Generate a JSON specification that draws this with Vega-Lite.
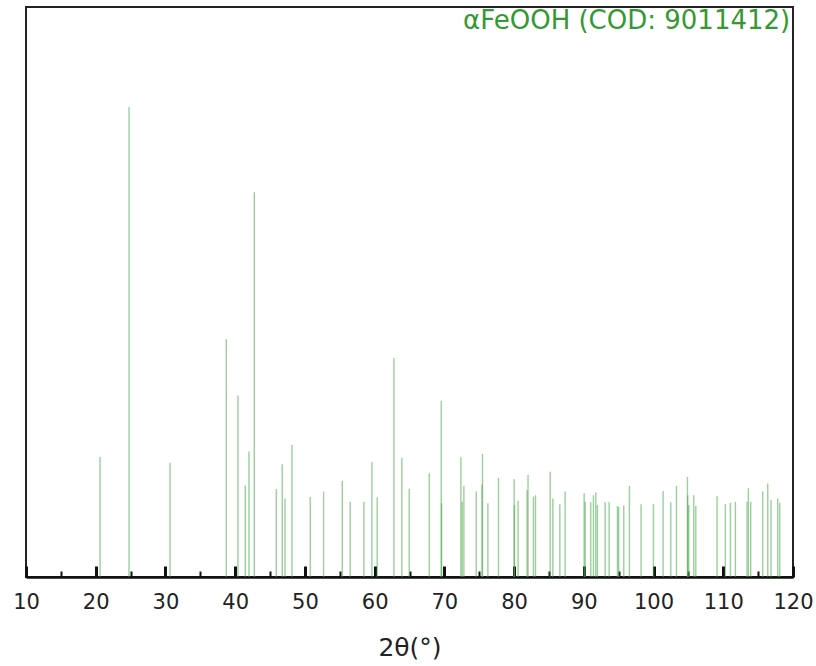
{
  "$schema": "https://vega.github.io/schema/vega-lite/v6.json",
  "width": 767,
  "height": 570,
  "autosize": "none",
  "padding": {"left": 26, "top": 7, "right": 23, "bottom": 89},
  "background": "white",
  "config": {
    "view": {"stroke": "#222222", "strokeWidth": 2},
    "font": "DejaVu Sans"
  },
  "data": {
    "values": [
      {"t": 20.62, "I": 25.6}, {"t": 24.78, "I": 100.0}, {"t": 30.66, "I": 24.3},
      {"t": 38.73, "I": 50.6}, {"t": 40.40, "I": 38.6}, {"t": 41.45, "I": 19.4},
      {"t": 41.98, "I": 26.7}, {"t": 42.74, "I": 81.9}, {"t": 45.90, "I": 18.7},
      {"t": 46.75, "I": 24.0}, {"t": 47.14, "I": 16.7}, {"t": 48.14, "I": 28.1},
      {"t": 50.77, "I": 17.0}, {"t": 52.68, "I": 18.2}, {"t": 55.36, "I": 20.5},
      {"t": 56.50, "I": 16.0}, {"t": 58.46, "I": 16.0}, {"t": 59.61, "I": 24.5},
      {"t": 60.37, "I": 16.9}, {"t": 62.77, "I": 46.6}, {"t": 63.91, "I": 25.4},
      {"t": 64.96, "I": 18.8}, {"t": 67.83, "I": 22.1}, {"t": 69.55, "I": 37.5},
      {"t": 69.60, "I": 15.7}, {"t": 72.37, "I": 25.5}, {"t": 72.55, "I": 16.0},
      {"t": 72.80, "I": 19.4}, {"t": 74.57, "I": 18.2}, {"t": 75.40, "I": 19.7},
      {"t": 75.47, "I": 26.2}, {"t": 76.24, "I": 15.7}, {"t": 77.76, "I": 21.1},
      {"t": 80.01, "I": 20.8}, {"t": 80.05, "I": 15.3}, {"t": 80.57, "I": 16.2},
      {"t": 81.86, "I": 18.5}, {"t": 82.00, "I": 21.7}, {"t": 82.78, "I": 17.1},
      {"t": 83.07, "I": 17.4}, {"t": 85.18, "I": 22.4}, {"t": 85.56, "I": 16.7},
      {"t": 86.56, "I": 15.5}, {"t": 87.32, "I": 18.2}, {"t": 90.05, "I": 17.8},
      {"t": 90.20, "I": 16.0}, {"t": 91.00, "I": 15.9}, {"t": 91.38, "I": 17.4},
      {"t": 91.72, "I": 18.0}, {"t": 91.95, "I": 15.3}, {"t": 93.06, "I": 15.9},
      {"t": 93.63, "I": 15.9}, {"t": 94.82, "I": 15.1}, {"t": 95.00, "I": 14.9},
      {"t": 95.73, "I": 15.2}, {"t": 96.54, "I": 19.4}, {"t": 98.21, "I": 15.5},
      {"t": 99.98, "I": 15.5}, {"t": 101.37, "I": 18.3}, {"t": 102.47, "I": 15.9},
      {"t": 103.28, "I": 19.4}, {"t": 104.86, "I": 21.3}, {"t": 104.90, "I": 17.4},
      {"t": 105.05, "I": 15.3}, {"t": 105.77, "I": 17.4}, {"t": 106.06, "I": 15.1},
      {"t": 109.11, "I": 17.2}, {"t": 110.30, "I": 15.5}, {"t": 111.02, "I": 15.8},
      {"t": 111.74, "I": 16.0}, {"t": 113.41, "I": 16.0}, {"t": 113.60, "I": 18.9},
      {"t": 113.94, "I": 16.0}, {"t": 115.66, "I": 18.2}, {"t": 116.38, "I": 19.9},
      {"t": 116.85, "I": 16.4}, {"t": 117.81, "I": 16.7}, {"t": 118.10, "I": 15.8}
    ]
  },
  "resolve": {"axis": {"x": "independent"}},
  "layer": [
    {
      "mark": {"type": "rule", "stroke": "#4aa84a", "strokeWidth": 1.4, "opacity": 0.55},
      "encoding": {
        "x": {
          "field": "t",
          "type": "quantitative",
          "scale": {"domain": [10, 120], "nice": false, "zero": false},
          "axis": {
            "orient": "bottom",
            "title": "2θ(°)",
            "titleFont": "DejaVu Sans",
            "titleFontSize": 25,
            "titleFontWeight": "normal",
            "titleColor": "#222222",
            "titlePadding": 23,
            "values": [10, 20, 30, 40, 50, 60, 70, 80, 90, 100, 110, 120],
            "labelFont": "DejaVu Sans",
            "labelFontSize": 21,
            "labelColor": "#222222",
            "labelPadding": 25,
            "labelFlush": false,
            "labelOverlap": false,
            "grid": false,
            "domainColor": "#111111",
            "domainWidth": 2.5,
            "tickColor": "#111111",
            "tickWidth": 3,
            "tickSize": -11
          }
        },
        "y": {
          "field": "I",
          "type": "quantitative",
          "scale": {"domain": [0, 121.3], "nice": false},
          "axis": null
        },
        "y2": {"datum": 0}
      }
    },
    {
      "data": {"values": [{}]},
      "mark": {
        "type": "text",
        "text": "αFeOOH (COD: 9011412)",
        "font": "DejaVu Sans",
        "fontSize": 26,
        "align": "right",
        "baseline": "alphabetic",
        "color": "#339933"
      },
      "encoding": {
        "x": {
          "datum": 119.6,
          "type": "quantitative",
          "axis": {
            "orient": "bottom",
            "offset": 0,
            "title": null,
            "values": [15, 25, 35, 45, 55, 65, 75, 85, 95, 105, 115],
            "labels": false,
            "domain": false,
            "grid": false,
            "tickColor": "#111111",
            "tickWidth": 2,
            "tickSize": -6
          }
        },
        "y": {"datum": 116.7, "type": "quantitative"}
      }
    }
  ]
}
